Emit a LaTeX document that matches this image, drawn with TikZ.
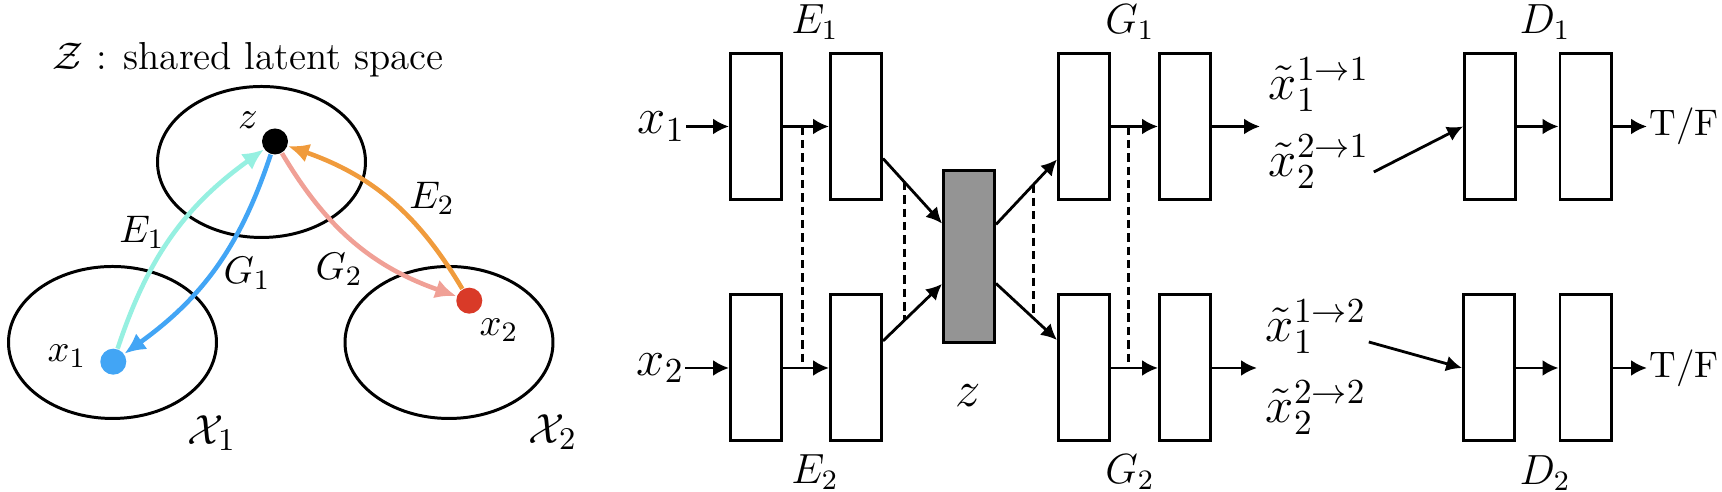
\documentclass[tikz,border=0pt]{standalone}
\usetikzlibrary{arrows.meta}

\definecolor{encA}{RGB}{150,240,225}
\definecolor{genA}{RGB}{66,165,245}
\definecolor{genB}{RGB}{240,160,150}
\definecolor{encB}{RGB}{240,155,60}
\definecolor{ptred}{RGB}{217,58,40}
\definecolor{zgray}{RGB}{148,148,148}

\begin{document}
\begin{tikzpicture}[every node/.style={font=\fontsize{10.8}{13}\selectfont},
    blk/.style={draw,line width=0.85pt,minimum width=5.1mm,minimum height=14.6mm,inner sep=0pt},
    spot/.style={circle,inner sep=0pt,minimum size=2.6mm},
    flow/.style={line width=0.8pt,-{Latex[length=4.5pt,width=4.5pt]}},
    tie/.style={line width=0.8pt,dash pattern=on 2.4pt off 1.4pt},
    map/.style={line width=1.3pt,-{Latex[length=6pt,width=5.5pt]}},
    big/.style={font=\Large,inner sep=0pt},
    mid/.style={font=\fontsize{12}{14}\selectfont}]
    \useasboundingbox (0,0) rectangle (17.22,4.92);

    % left: latent space and the two domains
    \draw[line width=0.85pt] (2.615,3.30) ellipse (1.04 and 0.755);
    \draw[line width=0.85pt] (1.125,1.495) ellipse (1.04 and 0.76);
    \draw[line width=0.85pt] (4.49,1.495) ellipse (1.04 and 0.76);
    \node[font=\fontsize{11.1}{13}\selectfont] (title) at (2.48,4.32) {$\mathcal{Z}$ : shared latent space};
    \node[spot,fill=black] (z) at (2.75,3.505) {};
    \node[spot,fill=genA] (x1) at (1.133,1.303) {};
    \node[spot,fill=ptred] (x2) at (4.693,1.913) {};
    \draw[map,encA] (x1) to[bend left=18] (z);
    \draw[map,genA] (z) to[bend left=18] (x1);
    \draw[map,genB] (z) to[bend right=20] (x2);
    \draw[map,encB] (x2) to[bend right=20] (z);
    \node (zl) at (2.48,3.72) {$z$};
    \node (x1l) at (0.67,1.36) {$x_1$};
    \node (x2l) at (4.99,1.62) {$x_2$};
    \node (e1l) at (1.42,2.60) {$E_1$};
    \node (g1l) at (2.47,2.19) {$G_1$};
    \node (g2l) at (3.39,2.23) {$G_2$};
    \node (e2l) at (4.32,2.94) {$E_2$};
    \node[font=\fontsize{13}{15}\selectfont] (dom1) at (2.12,0.59) {$\mathcal{X}_1$};
    \node[font=\fontsize{13}{15}\selectfont] (dom2) at (5.53,0.60) {$\mathcal{X}_2$};

    % right: encoders, shared code, generators, discriminators
    \node[blk] (e1a) at (7.56,3.655) {};
    \node[blk] (e1b) at (8.56,3.655) {};
    \node[blk] (e2a) at (7.56,1.24) {};
    \node[blk] (e2b) at (8.56,1.24) {};
    \node[blk,fill=zgray,minimum height=17.2mm] (zc) at (9.69,2.355) {};
    \node[blk] (g1a) at (10.84,3.655) {};
    \node[blk] (g1b) at (11.85,3.655) {};
    \node[blk] (g2a) at (10.84,1.24) {};
    \node[blk] (g2b) at (11.85,1.24) {};
    \node[blk] (d1a) at (14.90,3.655) {};
    \node[blk] (d1b) at (15.855,3.655) {};
    \node[blk] (d2a) at (14.89,1.24) {};
    \node[blk] (d2b) at (15.855,1.24) {};

    \node[big,anchor=east] (in1) at (6.86,3.655) {$x_1$};
    \node[big,anchor=east] (in2) at (6.85,1.24) {$x_2$};
    \draw[flow] (in1) -- (e1a);
    \draw[flow] (in2) -- (e2a);
    \draw[flow] (e1a) -- coordinate[pos=0.42] (t1) (e1b);
    \draw[flow] (e2a) -- coordinate[pos=0.42] (t2) (e2b);
    \draw[flow] ([yshift=-3.2mm]e1b.east) -- coordinate[pos=0.36] (t3) ([yshift=3.3mm]zc.west);
    \draw[flow] ([yshift=2.7mm]e2b.east) -- coordinate[pos=0.36] (t4) ([yshift=-2.75mm]zc.west);
    \draw[flow] ([yshift=3.2mm]zc.east) -- coordinate[pos=0.62] (t5) ([yshift=-3.3mm]g1a.west);
    \draw[flow] ([yshift=-2.7mm]zc.east) -- coordinate[pos=0.62] (t6) ([yshift=2.8mm]g2a.west);
    \draw[flow] (g1a) -- coordinate[pos=0.37] (t7) (g1b);
    \draw[flow] (g2a) -- coordinate[pos=0.37] (t8) (g2b);
    \draw[tie] (t1) -- (t2);
    \draw[tie] (t3) -- (t4);
    \draw[tie] (t5) -- (t6);
    \draw[tie] (t7) -- (t8);

    \coordinate (o1) at (12.60,3.655);
    \coordinate (o2) at (12.57,1.24);
    \draw[flow] (g1b) -- (o1);
    \draw[flow] (g2b) -- (o2);
    \node[big] (r11) at (13.19,4.07) {$\tilde{x}_1^{1\to1}$};
    \node[big] (r21) at (13.19,3.30) {$\tilde{x}_2^{2\to1}$};
    \node[big] (r12) at (13.16,1.65) {$\tilde{x}_1^{1\to2}$};
    \node[big] (r22) at (13.16,0.84) {$\tilde{x}_2^{2\to2}$};
    \draw[flow] ([xshift=0.4mm,yshift=-1mm]r21.east) -- (d1a.west);
    \draw[flow] ([xshift=0.2mm,yshift=-1.5mm]r12.east) -- (d2a.west);
    \draw[flow] (d1a) -- (d1b);
    \draw[flow] (d2a) -- (d2b);
    \node[anchor=west,inner sep=0.5pt,font=\fontsize{10.5}{12}\selectfont] (tf1) at (16.47,3.655) {T/F};
    \node[anchor=west,inner sep=0.5pt,font=\fontsize{10.5}{12}\selectfont] (tf2) at (16.47,1.24) {T/F};
    \draw[flow] (d1b) -- (tf1);
    \draw[flow] (d2b) -- (tf2);

    \node[mid] (ne1) at (8.15,4.70) {$E_1$};
    \node[mid] (ne2) at (8.15,0.20) {$E_2$};
    \node[mid] (ng1) at (11.30,4.70) {$G_1$};
    \node[mid] (ng2) at (11.30,0.20) {$G_2$};
    \node[mid] (nd1) at (15.45,4.70) {$D_1$};
    \node[mid] (nd2) at (15.45,0.19) {$D_2$};
    \node[font=\fontsize{15}{17}\selectfont] (nz) at (9.68,0.96) {$z$};
\end{tikzpicture}
\end{document}
